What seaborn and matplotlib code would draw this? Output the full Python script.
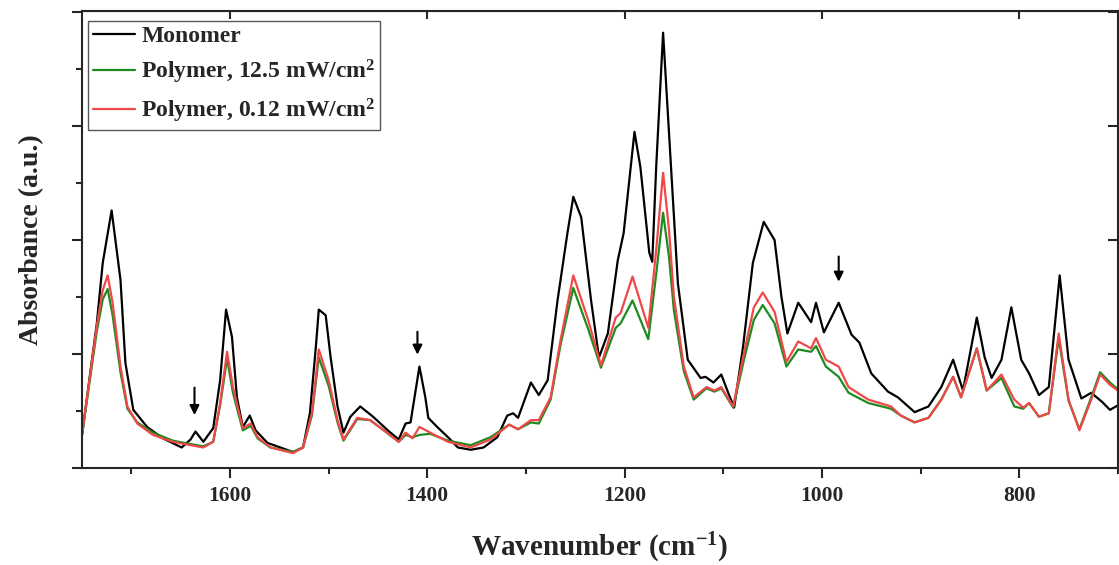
import matplotlib
matplotlib.use("Agg")
import matplotlib.pyplot as plt
import seaborn as sns
from matplotlib.ticker import MultipleLocator

# Monomer spectrum (wavenumber, absorbance)
wn_mono = [1750, 1735, 1729, 1720, 1711, 1706, 1698, 1684, 1668, 1649, 1640, 1635, 1627, 1617,
           1610, 1604, 1598, 1593, 1587, 1580, 1574, 1562, 1536, 1526, 1519, 1513, 1510, 1503,
           1498, 1491, 1485, 1478, 1468, 1455, 1440, 1429, 1422, 1417, 1408, 1402, 1399, 1390,
           1379, 1369, 1356, 1343, 1329, 1319, 1313, 1308, 1295, 1287, 1278, 1268, 1258, 1252,
           1244, 1234, 1226, 1217, 1207, 1201, 1190, 1184, 1175, 1172, 1168, 1161, 1155, 1146,
           1136, 1123, 1118, 1110, 1102, 1095, 1089, 1080, 1070, 1059, 1048, 1041, 1035, 1024,
           1011, 1006, 998, 983, 970, 962, 950, 933, 923, 906, 892, 879, 867, 857, 843, 835,
           828, 818, 808, 798, 790, 780, 770, 759, 750, 737, 727, 716, 708, 700]
abs_mono = [0.29, 1.27, 1.80, 2.26, 1.65, 0.92, 0.51, 0.36, 0.26, 0.18, 0.25, 0.32, 0.23, 0.35,
            0.77, 1.39, 1.15, 0.62, 0.36, 0.46, 0.33, 0.22, 0.14, 0.18, 0.48, 1.06, 1.39, 1.34,
            0.97, 0.54, 0.31, 0.45, 0.54, 0.45, 0.33, 0.25, 0.39, 0.40, 0.89, 0.62, 0.44, 0.36,
            0.27, 0.18, 0.16, 0.18, 0.27, 0.46, 0.48, 0.44, 0.75, 0.64, 0.77, 1.47, 2.06, 2.38,
            2.20, 1.47, 0.97, 1.18, 1.82, 2.06, 2.95, 2.64, 1.89, 1.81, 2.64, 3.82, 2.94, 1.62,
            0.95, 0.79, 0.80, 0.75, 0.82, 0.66, 0.53, 1.06, 1.80, 2.16, 2.00, 1.50, 1.18, 1.45,
            1.28, 1.45, 1.19, 1.45, 1.17, 1.10, 0.83, 0.67, 0.62, 0.49, 0.54, 0.71, 0.95, 0.68,
            1.32, 0.97, 0.79, 0.95, 1.41, 0.95, 0.83, 0.64, 0.71, 1.69, 0.95, 0.61, 0.66, 0.58,
            0.51, 0.55]

# Polymer spectra share one wavenumber grid
wn_poly = [1750, 1735, 1729, 1724, 1719, 1711, 1704, 1694, 1678, 1658, 1640, 1627, 1617, 1610,
           1603, 1597, 1587, 1579, 1572, 1559, 1536, 1526, 1517, 1510, 1500, 1491, 1485, 1471,
           1458, 1444, 1429, 1422, 1415, 1408, 1397, 1379, 1356, 1336, 1317, 1308, 1295, 1287,
           1275, 1265, 1252, 1237, 1224, 1209, 1204, 1192, 1176, 1168, 1161, 1155, 1150, 1140,
           1130, 1117, 1109, 1102, 1090, 1079, 1069, 1060, 1048, 1036, 1024, 1011, 1006, 996,
           983, 973, 953, 930, 920, 906, 892, 879, 867, 859, 843, 833, 818, 805, 796, 790, 780,
           770, 760, 750, 739, 727, 718, 708, 700]
abs_low = [0.29, 1.25, 1.56, 1.69, 1.45, 0.89, 0.54, 0.39, 0.29, 0.23, 0.20, 0.18, 0.23, 0.57,
           1.02, 0.71, 0.35, 0.39, 0.27, 0.18, 0.13, 0.18, 0.48, 1.04, 0.77, 0.42, 0.25, 0.44,
           0.42, 0.33, 0.23, 0.31, 0.26, 0.36, 0.31, 0.23, 0.18, 0.25, 0.38, 0.34, 0.42, 0.42,
           0.62, 1.12, 1.69, 1.30, 0.90, 1.32, 1.36, 1.68, 1.23, 1.91, 2.59, 2.09, 1.50, 0.89,
           0.62, 0.71, 0.68, 0.71, 0.54, 1.01, 1.41, 1.54, 1.37, 0.93, 1.11, 1.05, 1.14, 0.95,
           0.89, 0.71, 0.60, 0.54, 0.46, 0.40, 0.44, 0.60, 0.80, 0.62, 1.05, 0.68, 0.82, 0.60,
           0.53, 0.57, 0.45, 0.48, 1.18, 0.60, 0.33, 0.60, 0.82, 0.73, 0.68]
abs_high = [0.29, 1.20, 1.48, 1.57, 1.34, 0.84, 0.52, 0.40, 0.31, 0.24, 0.21, 0.19, 0.23, 0.55,
            0.96, 0.66, 0.33, 0.37, 0.26, 0.18, 0.14, 0.18, 0.46, 0.97, 0.72, 0.40, 0.24, 0.43,
            0.42, 0.33, 0.23, 0.29, 0.27, 0.29, 0.30, 0.24, 0.20, 0.27, 0.38, 0.34, 0.40, 0.39,
            0.60, 1.08, 1.58, 1.22, 0.88, 1.23, 1.27, 1.47, 1.13, 1.70, 2.24, 1.85, 1.38, 0.85,
            0.60, 0.70, 0.67, 0.70, 0.53, 0.95, 1.30, 1.43, 1.27, 0.89, 1.04, 1.02, 1.07, 0.89,
            0.80, 0.66, 0.57, 0.52, 0.46, 0.40, 0.44, 0.60, 0.80, 0.62, 1.05, 0.68, 0.79, 0.54,
            0.52, 0.57, 0.45, 0.48, 1.14, 0.59, 0.34, 0.62, 0.84, 0.75, 0.69]

labels = ["Monomer", "Polymer, 12.5 mW/cm$^2$", "Polymer, 0.12 mW/cm$^2$"]
colors = ["black", "#1f8a1f", "#f04848"]

# arrows marking the C=C bands
arrow_wn = [1636, 1410, 983]
arrow_top = [0.73, 1.22, 1.88]
arrow_tip = [0.44, 0.97, 1.61]

sns.set_style("ticks")
plt.rcParams["font.family"] = ["Liberation Serif", "DejaVu Serif"]
plt.rcParams["font.weight"] = "bold"
plt.rcParams["mathtext.default"] = "regular"

fig = plt.figure(figsize=(11.19, 5.65), dpi=100)
ax = fig.add_axes([0.0733, 0.1717, 0.9257, 0.8088])

sns.lineplot(x=wn_mono, y=abs_mono, color=colors[0], lw=1.6, label=labels[0], ax=ax, sort=False)
sns.lineplot(x=wn_poly, y=abs_high, color=colors[1], lw=1.6, label=labels[1], ax=ax, sort=False)
sns.lineplot(x=wn_poly, y=abs_low, color=colors[2], lw=1.6, label=labels[2], ax=ax, sort=False)

for w, t, h in zip(arrow_wn, arrow_top, arrow_tip):
    ax.annotate("", xy=(w, h), xytext=(w, t),
                arrowprops=dict(arrowstyle="-|>", color="black", lw=1.5, mutation_scale=14))

ax.set_xlim(1750, 700)
ax.set_ylim(0, 4.01)
ax.xaxis.set_major_locator(MultipleLocator(200))
ax.xaxis.set_minor_locator(MultipleLocator(100))
ax.yaxis.set_major_locator(MultipleLocator(1))
ax.yaxis.set_minor_locator(MultipleLocator(0.5))
ax.set_yticklabels([])
ax.tick_params(which="major", direction="out", length=7, width=1.5, labelsize=15.5, pad=6)
ax.tick_params(which="minor", direction="out", length=4, width=1.5)
for s in ax.spines.values():
    s.set_linewidth(1.5)

top = ax.secondary_xaxis("top")
top.xaxis.set_major_locator(MultipleLocator(200))
top.tick_params(direction="in", length=6, width=1.5, labeltop=False)
right = ax.secondary_yaxis("right")
right.yaxis.set_major_locator(MultipleLocator(1))
right.tick_params(direction="in", length=7, width=1.5, labelright=False)

ax.set_xlabel("Wavenumber (cm$^{-1}$)", fontsize=21, fontweight="bold", labelpad=18)
ax.set_ylabel("Absorbance (a.u.)", fontsize=20, fontweight="bold", labelpad=14)

leg = ax.legend(loc="upper left", bbox_to_anchor=(0.006, 0.978), borderaxespad=0, fontsize=17,
                frameon=True, fancybox=False, framealpha=1, edgecolor="#555555",
                labelspacing=0.45, handlelength=1.8, handletextpad=0.25, borderpad=0.2)
leg.get_frame().set_linewidth(1.0)

fig.savefig("out.png", dpi=100)
